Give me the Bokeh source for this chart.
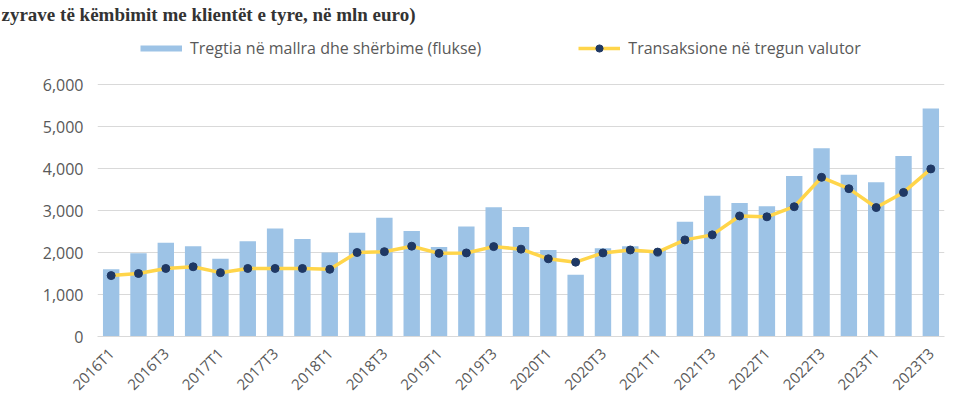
from bokeh.plotting import figure
from bokeh.models import ColumnDataSource, Legend, LegendItem, Title, FixedTicker, NumeralTickFormatter
from bokeh.embed import file_html
from bokeh.resources import INLINE

quarters = ["2016T1", "2016T2", "2016T3", "2016T4",
            "2017T1", "2017T2", "2017T3", "2017T4",
            "2018T1", "2018T2", "2018T3", "2018T4",
            "2019T1", "2019T2", "2019T3", "2019T4",
            "2020T1", "2020T2", "2020T3", "2020T4",
            "2021T1", "2021T2", "2021T3", "2021T4",
            "2022T1", "2022T2", "2022T3", "2022T4",
            "2023T1", "2023T2", "2023T3"]
shown_labels = ["2016T1", "2016T3", "2017T1", "2017T3", "2018T1", "2018T3",
                "2019T1", "2019T3", "2020T1", "2020T3", "2021T1", "2021T3",
                "2022T1", "2022T3", "2023T1", "2023T3"]
trade = [1600, 1980, 2230, 2150, 1850, 2270, 2570, 2320,
         2000, 2470, 2830, 2510, 2130, 2620, 3080, 2610,
         2060, 1470, 2100, 2150, 2060, 2730, 3350, 3180,
         3100, 3820, 4480, 3850, 3670, 4300, 5430]
fx_market = [1450, 1500, 1620, 1660, 1520, 1620, 1620, 1620,
             1600, 2000, 2020, 2150, 1980, 1990, 2140, 2080,
             1850, 1770, 1990, 2060, 2010, 2300, 2420, 2870,
             2850, 3090, 3790, 3520, 3070, 3430, 3990]
y_ticks = [0, 1000, 2000, 3000, 4000, 5000, 6000]
bar_label = "Tregtia në mallra dhe shërbime (flukse)"
line_label = "Transaksione në tregun valutor"
caption = "zyrave të këmbimit me klientët e tyre, në mln euro)"

FONT = "Open Sans"
GRAY = "#595959"
BAR_COLOR = "#9DC3E6"
LINE_COLOR = "#FFD54A"
DOT_COLOR = "#1F3864"

pos = list(range(len(quarters)))
src = ColumnDataSource(dict(x=pos, q=quarters, trade=trade, fx=fx_market))

FRAME_TOP, Y6000_PX, ZERO_PX = 24, 84, 336
# extra headroom above 6,000 so the legend sits inside the plot frame
Y_TOP = 6000 * (ZERO_PX - FRAME_TOP) / (ZERO_PX - Y6000_PX)

p = figure(x_range=(-0.5, len(quarters) - 0.5), y_range=(0, Y_TOP),
           width=965, height=410, output_backend="svg", toolbar_location=None,
           min_border_left=97, min_border_right=21, min_border_top=FRAME_TOP,
           min_border_bottom=410 - ZERO_PX)
p.outline_line_color = None
p.background_fill_color = "white"
p.border_fill_color = "white"

bars = p.vbar(x="x", top="trade", width=0.6, source=src, fill_color=BAR_COLOR, line_color=None)
ln = p.line(x="x", y="fx", source=src, line_color=LINE_COLOR, line_width=3.5)
pts = p.scatter(x="x", y="fx", source=src, size=8, fill_color=DOT_COLOR, line_color=DOT_COLOR)
# flat legend swatch for the bar series (no visible data)
swatch = p.line(x=[float("nan")], y=[float("nan")], line_color=BAR_COLOR, line_width=6)

p.yaxis.ticker = FixedTicker(ticks=y_ticks)
p.yaxis.formatter = NumeralTickFormatter(format="0,0")
p.yaxis.axis_line_color = None
p.yaxis.major_tick_line_color = None
p.yaxis.minor_tick_line_color = None
p.yaxis.major_tick_out = 0
p.yaxis.major_tick_in = 0
p.yaxis.major_label_standoff = 14
p.yaxis.major_label_text_font = FONT
p.yaxis.major_label_text_font_size = "16px"
p.yaxis.major_label_text_color = GRAY

tick_pos = [i for i, q in enumerate(quarters) if q in shown_labels]
p.xaxis.ticker = FixedTicker(ticks=tick_pos)
p.xaxis.major_label_overrides = {i: quarters[i] for i in tick_pos}
p.xaxis.axis_line_color = "#D9D9D9"
p.xaxis.major_tick_line_color = None
p.xaxis.minor_tick_line_color = None
p.xaxis.major_label_orientation = 0.785398
p.xaxis.major_label_standoff = 8
p.xaxis.major_label_text_font = FONT
p.xaxis.major_label_text_font_size = "15px"
p.xaxis.major_label_text_color = GRAY

p.xgrid.grid_line_color = None
p.ygrid.grid_line_color = "#D9D9D9"
p.ygrid.grid_line_width = 1

leg = Legend(items=[LegendItem(label=bar_label, renderers=[swatch]),
                    LegendItem(label=line_label, renderers=[ln, pts])],
             location=(43, ZERO_PX - 59), orientation="horizontal",
             glyph_width=42, glyph_height=18, label_standoff=8, spacing=97,
             padding=0, margin=0, border_line_color=None, background_fill_alpha=0,
             label_text_font=FONT, label_text_font_size="16px", label_text_color=GRAY)
p.add_layout(leg, "center")

p.title = Title(text=caption, align="left", offset=-96, standoff=0,
                text_font="Liberation Serif", text_font_size="19px",
                text_font_style="bold", text_color="#333333")

open("out.html", "w").write(file_html(p, INLINE))
